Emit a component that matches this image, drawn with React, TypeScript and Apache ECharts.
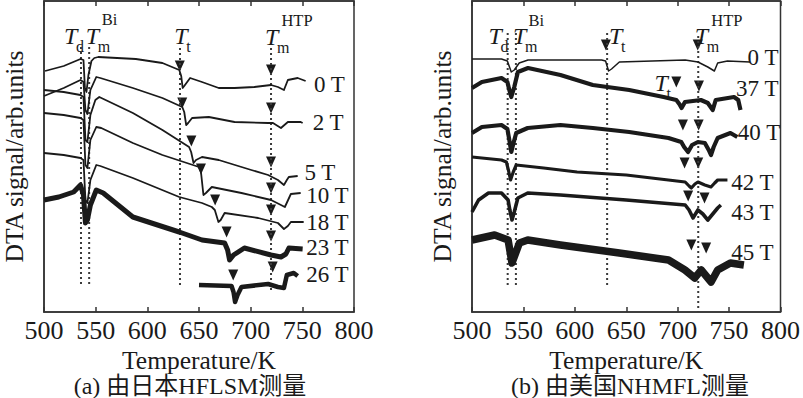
import React, { useEffect, useRef } from "react";
import * as echarts from "echarts";

// Temperature axis (K)
const tempMin = 500;
const tempMax = 800;
const tempStep = 50;
const signalMin = 0;
const signalMax = 311;

// ---------- Panel (a): measured at HFLSM (Japan) ----------
const a0T = [[501,241],[519.1,246],[535.3,253],[538.2,252],[539.6,224],[541.1,220],[543,237],[545.9,251],[548.7,254],[552.5,255],[588.9,253],[614.6,249],[630.9,242],[632.8,236],[634.2,224],[635.7,226],[641.4,234],[652.9,230],[669.1,224],[684.4,224],[703.5,225],[719.7,227],[726.4,225],[732.2,222],[736,232],[745.5,234],[753.2,231]];
const a2T = [[500,216],[519.1,224],[535.3,232],[538.2,230],[540.1,202],[542,198],[544.9,222],[550.6,235],[554.5,234],[586,224],[614.6,214],[633.8,205],[635.7,200],[637.6,187],[639.5,189],[643.3,194],[659.5,195],[684.4,190],[716.9,189],[721.6,189],[729.3,184],[736,190],[748.4,190],[750.3,189]];
const a5T = [[500,222],[519.1,220],[535.3,217],[538.2,215],[540.1,172],[542,170],[544.9,197],[549.7,212],[553.5,215],[586,199],[614.6,182],[640.4,165],[642.4,160],[644.7,149],[647.1,152],[652.9,155],[669.1,152],[700.6,142],[716.9,137],[726.4,132],[732.2,127],[735,132],[736.9,135],[745.5,136]];
const a10T = [[500,199],[519.1,197],[535.3,194],[538.2,192],[540.1,147],[542,144],[544.9,172],[550.6,185],[555.4,184],[586,169],[614.6,157],[650,145],[651.9,140],[654.3,117],[656.7,119],[662.4,125],[691.1,119],[719.7,112],[729.3,107],[733.1,105],[738.9,118],[748.4,119]];
const a18T = [[500,159],[519.1,157],[535.3,154],[538.2,152],[540.1,112],[542,109],[544.9,132],[550.6,147],[554.5,146],[586,134],[630.9,115],[652.9,109],[662.4,105],[665.3,102],[668.8,90],[671,92],[674.8,99],[707.3,94],[726.4,89],[732.2,83],[736,86],[738.9,90],[751.3,90]];
const a23T = [[500,112],[514.3,115],[528.7,120],[535.3,127],[538.2,117],[540.1,89],[542,92],[544.9,107],[550.6,122],[557.3,119],[586,95],[630.9,80],[652.9,72],[674.8,69],[677.7,62],[679.6,52],[683.4,57],[693.9,64],[719.7,57],[729.3,55],[734.1,58],[737,64],[750.3,63]];
const a26T = [[650,27],[681.5,26],[683.4,20],[684.9,10],[687.3,17],[691.1,25],[716.9,28],[726.4,25],[732.2,24],[735,37],[741.7,39],[745.5,36]];

// ---------- Panel (b): measured at NHMFL (USA) ----------
const b0T = [[500,253],[528.7,253],[534.4,251],[538.2,240],[541.1,242],[545.9,249],[554.5,252],[626.1,252],[629.9,251],[632.8,241],[635.7,243],[643.3,250],[707.3,252],[719.7,250],[729.3,245],[735.7,241],[738.9,249],[748.4,251],[770.4,250]];
const b37T = [[500,224],[509.6,230],[528.7,234],[534.4,230],[536.3,222],[538.2,215],[541.1,225],[544.6,240],[554.5,244],[586,237],[617.5,227],[652.9,222],[686.3,215],[698.7,212],[701.6,208],[703.8,204],[707.1,210],[722.6,212],[729.3,209],[734.1,202],[737,212],[754.8,215],[758.9,212],[761.1,202]];
const b40T = [[500,179],[509.6,185],[528.7,187],[534.4,183],[536.3,172],[538.2,160],[540.1,168],[543,179],[554.2,184],[586,187],[617.5,184],[652.9,180],[691.1,174],[703.5,170],[706.3,165],[710.1,160],[714,167],[719.7,170],[726.4,169],[730.2,162],[732.4,157],[735,165],[738.9,174],[751.3,179],[758,175]];
const b42T = [[500,155],[528.7,152],[533.4,150],[535.4,142],[537.5,132],[540.1,140],[543,147],[569.7,144],[602.2,140],[650,137],[707.3,130],[711.1,126],[713.3,124],[716.8,128],[719.7,130],[726.4,127],[732.4,125],[736,129],[738.9,132],[748.4,132]];
const b43T = [[500,100],[506.4,112],[516,119],[528.7,119],[535.1,112],[536.8,102],[538.9,92],[541.1,100],[544.6,114],[554.2,119],[586,117],[650,112],[707.3,107],[711.1,102],[714.9,94],[719.7,102],[724.5,98],[729.3,92],[734.1,98],[738.9,104],[742,107]];
const b45T = [[500,72],[522,77],[535.1,72],[538.9,49],[546.1,69],[554.2,72],[586,67],[643.3,59],[691.1,52],[707.1,42],[716.6,34],[722.9,42],[732.5,30],[738.9,42],[751.3,49],[764.4,47]];

// Event temperatures (dotted guides): Td, Tm(Bi), Tt, Tm(HTP)  [T, top, bottom]
const guidesA = [[535.8,265,25],[543.7,265,25],[631.6,264,25],[719.7,264,22]];
const guidesB = [[534.7,279,24],[542.7,279,24],[631.4,279,24],[720,276,0]];

// Arrow heads
const arrowsA = [[631.4,246],[633.8,209],[642.6,171],[651.9,143],[665.6,112],[676.7,80],[683.1,37],[719.7,242],[719.7,204],[719.7,150],[719.7,124],[719.7,102],[719.7,76],[721.3,45]];
const arrowsB = [[630.2,267],[719.5,267],[698.7,230],[720.7,226],[705.1,187],[720.4,187],[706.7,149],[720,149],[710.2,116],[726.1,114],[713.3,67],[727.7,64]];

// Transition symbols: [subscript, T (left edge), signal]; superscripts: [text, T (left edge), signal]
const symbolsA = [["d",518.9,278],["m",539.8,278],["t",625.5,278],["m",713.4,277]];
const supersA = [["Bi",555.4,293],["HTP",729.3,292]];
const symbolsB = [["d",515.6,278],["m",539.5,278],["t",632.7,278],["m",716.2,278],["t",677.1,231]];
const supersB = [["Bi",554.5,292],["HTP",732.2,292]];

// Field labels [text, T (left edge), signal]
const fieldsA = [["0 T",760.8,228],["2 T",759.6,189.5],["5 T",751.6,139.5],["10 T",753.2,117],["18 T",753.2,89.5],["23 T",753.2,64.5],["26 T",753.2,38]];
const fieldsB = [["0 T",767.5,254.5],["37 T",756.3,224],["40 T",758,180],["42 T",751.6,129.5],["43 T",751.6,99.5],["45 T",751.6,59.5]];

const curvesA = [[a0T,1.8],[a2T,1.8],[a5T,1.8],[a10T,1.8],[a18T,1.8],[a23T,5],[a26T,4.5]];
const curvesB = [[b0T,1.5],[b37T,4.2],[b40T,4.2],[b42T,3.2],[b43T,3.6],[b45T,7.5]];

const SERIF = "Liberation Serif";
const CAPTION_FONT = "Liberation Serif, Noto Sans CJK SC, serif";
const INK = "#1a1a1a";

export default function App() {
  const ref = useRef<HTMLDivElement>(null);
  useEffect(() => {
    if (!ref.current) return;
    const chart = echarts.init(ref.current, null, { renderer: "svg" });
    const grids = [
      { left: 40, top: 1, width: 314, height: 311, show: true, borderColor: "#333", borderWidth: 1.5, backgroundColor: "transparent" },
      { left: 472, top: 1, width: 314, height: 311, show: true, borderColor: "#333", borderWidth: 1.5, backgroundColor: "transparent" },
    ];
    const xAxes: any[] = [];
    const yAxes: any[] = [];
    [0, 1].forEach((g) => {
      xAxes.push({
        type: "value", gridIndex: g, min: tempMin, max: tempMax, interval: tempStep, position: "bottom",
        name: "Temperature/K", nameLocation: "middle", nameGap: 16,
        nameTextStyle: { fontFamily: SERIF, fontSize: 25.5, color: INK, lineHeight: 22 },
        axisLine: { show: true, lineStyle: { color: "#333", width: 1.5 } },
        axisTick: { show: true, inside: true, length: 5, lineStyle: { color: "#333", width: 1.5 } },
        axisLabel: { fontFamily: SERIF, fontSize: 26, color: INK, margin: 8, lineHeight: 20 },
        splitLine: { show: false },
      });
      xAxes.push({
        type: "value", gridIndex: g, min: tempMin, max: tempMax, interval: tempStep, position: "top",
        axisLine: { show: true, lineStyle: { color: "#333", width: 1.5 } },
        axisTick: { show: true, inside: true, length: 5, lineStyle: { color: "#333", width: 1.5 } },
        axisLabel: { show: false },
        splitLine: { show: false },
      });
      yAxes.push({
        type: "value", gridIndex: g, min: signalMin, max: signalMax,
        name: "DTA signal/arb.units", nameLocation: "middle", nameGap: 17, nameRotate: 90,
        nameTextStyle: { fontFamily: SERIF, fontSize: 25.5, color: INK },
        axisLine: { show: true, lineStyle: { color: "#333", width: 1.5 } },
        axisTick: { show: false }, axisLabel: { show: false }, splitLine: { show: false },
      });
    });

    const series: any[] = [];
    const panels = [
      { g: 0, curves: curvesA, guides: guidesA, arrows: arrowsA, symbols: symbolsA, supers: supersA, fields: fieldsA },
      { g: 1, curves: curvesB, guides: guidesB, arrows: arrowsB, symbols: symbolsB, supers: supersB, fields: fieldsB },
    ];
    panels.forEach((p) => {
      const xi = p.g * 2;
      const yi = p.g;
      p.guides.forEach((gd: any) => {
        series.push({
          type: "line", xAxisIndex: xi, yAxisIndex: yi, silent: true, showSymbol: false,
          data: [[gd[0], gd[1]], [gd[0], gd[2]]],
          lineStyle: { color: "#3a3a3a", width: 2, type: [2, 3] },
        });
      });
      p.curves.forEach((c: any) => {
        series.push({
          type: "line", xAxisIndex: xi, yAxisIndex: yi, silent: true, showSymbol: false,
          data: c[0], lineStyle: { color: INK, width: c[1], join: "round" },
        });
      });
      series.push({
        type: "scatter", xAxisIndex: xi, yAxisIndex: yi, silent: true,
        symbol: "triangle", symbolRotate: 180, symbolSize: [10, 11],
        itemStyle: { color: INK, opacity: 1 }, data: p.arrows,
      });
      // T with subscript (rich text)
      series.push({
        type: "scatter", xAxisIndex: xi, yAxisIndex: yi, silent: true, symbolSize: 1,
        itemStyle: { color: "rgba(0,0,0,0)", opacity: 1 },
        label: {
          show: true, position: "right", distance: 0, opacity: 1,
          rich: {
            T: { fontSize: 24, fontStyle: "italic", fontFamily: SERIF, color: INK, lineHeight: 20, width: 12, verticalAlign: "top" },
            s: { fontSize: 16, fontFamily: SERIF, color: INK, lineHeight: 14, padding: [14, 0, 0, 0], verticalAlign: "top" },
          },
        },
        data: p.symbols.map((s: any) => ({
          value: [s[1], s[2]],
          label: { formatter: `{T|T}{s|${s[0]}}` },
        })),
      });
      // superscripts
      series.push({
        type: "scatter", xAxisIndex: xi, yAxisIndex: yi, silent: true, symbolSize: 1,
        itemStyle: { color: "rgba(0,0,0,0)", opacity: 1 },
        label: { show: true, position: "right", distance: 0, color: INK, opacity: 1, fontFamily: SERIF, fontSize: 16.5, lineHeight: 13 },
        data: p.supers.map((s: any) => ({ value: [s[1], s[2]], label: { formatter: s[0] } })),
      });
      // field labels
      series.push({
        type: "scatter", xAxisIndex: xi, yAxisIndex: yi, silent: true, symbolSize: 1,
        itemStyle: { color: "rgba(0,0,0,0)", opacity: 1 },
        label: { show: true, position: "right", distance: 0, color: INK, opacity: 1, fontFamily: SERIF, fontSize: 23, lineHeight: 20 },
        data: p.fields.map((f: any) => ({ value: [f[1], f[2]], label: { formatter: f[0] } })),
      });
    });

    chart.setOption({
      animation: false,
      backgroundColor: "#fff",
      grid: grids,
      xAxis: xAxes,
      yAxis: yAxes,
      series,
      graphic: [
        { type: "text", x: 190, y: 386, style: { text: "(a) 由日本HFLSM测量", font: `24px ${CAPTION_FONT}`, lineHeight: 22, fill: INK, align: "center", verticalAlign: "middle" } },
        { type: "text", x: 630, y: 386, style: { text: "(b) 由美国NHMFL测量", font: `24px ${CAPTION_FONT}`, lineHeight: 22, fill: INK, align: "center", verticalAlign: "middle" } },
      ],
    });
    return () => chart.dispose();
  }, []);
  return <div ref={ref} style={{ position: "fixed", left: 0, top: 0, width: 803, height: 398, background: "#fff" }} />;
}
